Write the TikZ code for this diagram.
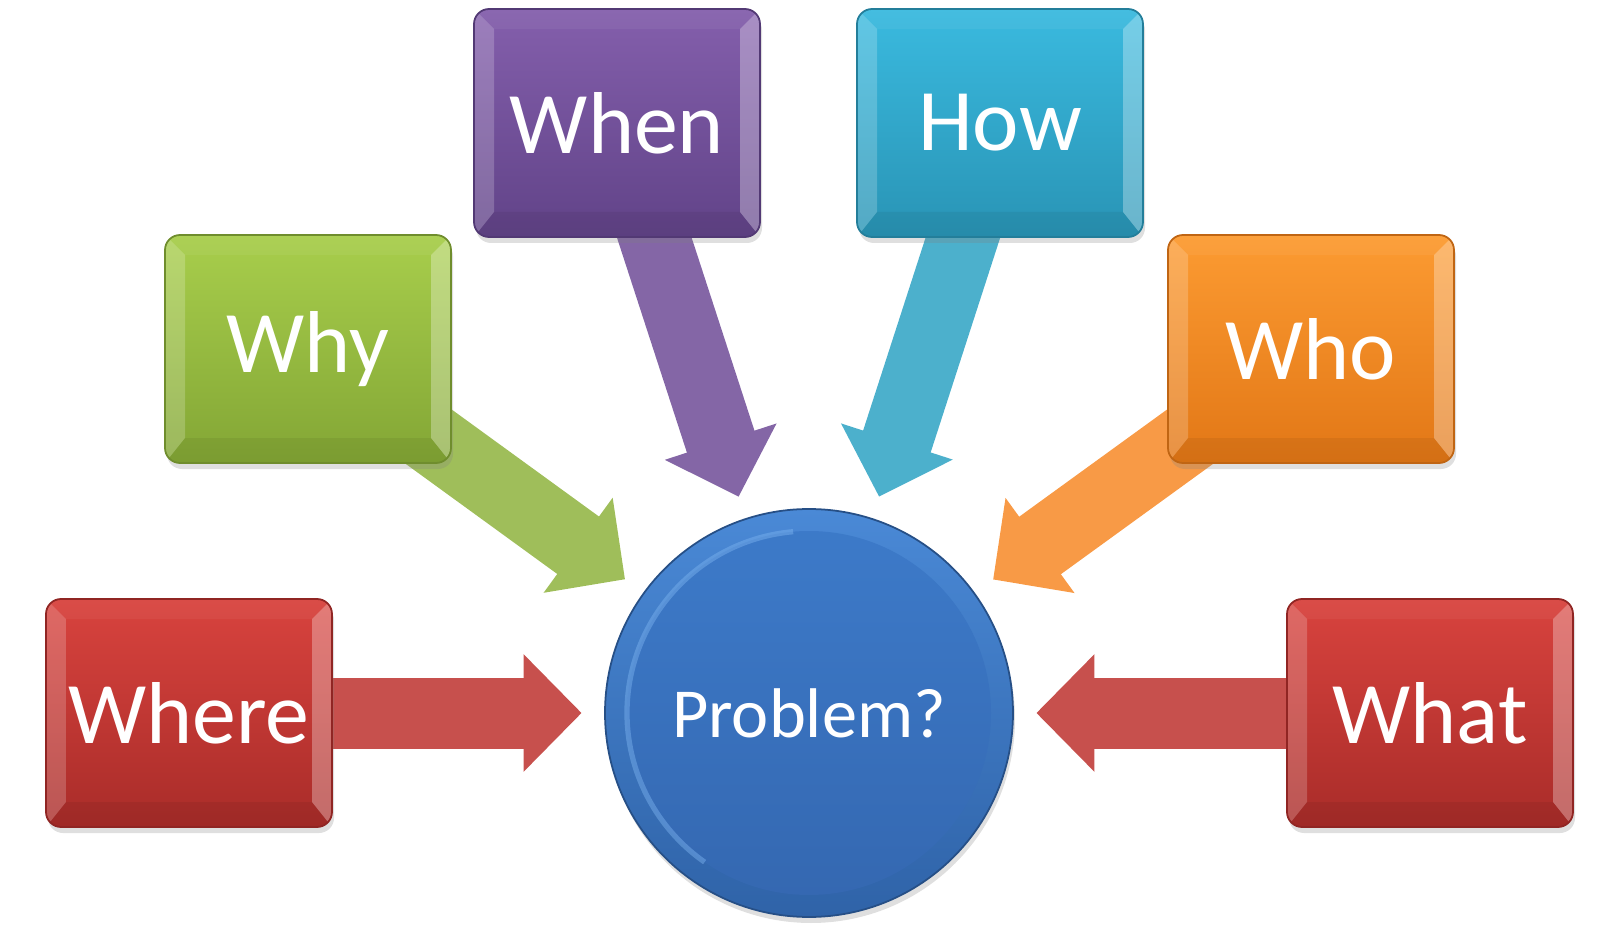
\documentclass[tikz,border=0pt]{standalone}
\usepackage{fontspec}
\setmainfont{Carlito}
\usetikzlibrary{arrows.meta,shadows,backgrounds}
\definecolor{redTop}{HTML}{D8433E}
\definecolor{redBot}{HTML}{A92C29}
\definecolor{redArr}{HTML}{C7504D}
\definecolor{greenTop}{HTML}{A8CE4C}
\definecolor{greenBot}{HTML}{83A635}
\definecolor{greenArr}{HTML}{9FBE5A}
\definecolor{purpleTop}{HTML}{845FAC}
\definecolor{purpleBot}{HTML}{614388}
\definecolor{purpleArr}{HTML}{8466A6}
\definecolor{aquaTop}{HTML}{3ABADF}
\definecolor{aquaBot}{HTML}{2994B5}
\definecolor{aquaArr}{HTML}{4CB0CC}
\definecolor{orangeTop}{HTML}{FC9B32}
\definecolor{orangeBot}{HTML}{E27716}
\definecolor{orangeArr}{HTML}{F89A46}
\definecolor{blueTop}{HTML}{4A89D6}
\definecolor{blueBot}{HTML}{2F63A8}
\definecolor{blueIn}{HTML}{3D7BCA}
\definecolor{blueInBot}{HTML}{3467B0}
\definecolor{blueHi}{HTML}{7DB4F0}
\tikzset{
  qbox/.style={rectangle, rounded corners=0.15cm, minimum width=2.86cm, minimum height=2.28cm,
    inner sep=0pt, text=white, font=\fontsize{25}{30}\selectfont, line width=0.5pt,
    drop shadow={shadow xshift=0.02cm, shadow yshift=-0.06cm, opacity=0.25},
    path picture={
      \fill[white,opacity=0.20,sharp corners] (path picture bounding box.north west) -- ++(0.2,-0.2) -- ++(0,-1.83) -- ++(-0.2,-0.25) -- cycle;
      \fill[white,opacity=0.30,sharp corners] (path picture bounding box.north east) -- ++(-0.2,-0.2) -- ++(0,-1.83) -- ++(0.2,-0.25) -- cycle;
      \fill[white,opacity=0.05,sharp corners] (path picture bounding box.north west) -- ++(0.2,-0.2) -- ++(2.46,0) -- ++(0.2,0.2) -- cycle;
      \fill[black,opacity=0.06,sharp corners] (path picture bounding box.south west) -- ++(0.2,0.25) -- ++(2.46,0) -- ++(0.2,-0.25) -- cycle;}},
  problem/.style={circle, minimum size=4.08cm, inner sep=0pt, top color=blueTop, bottom color=blueBot,
    draw=blueBot!80!black, line width=0.5pt, text=white, font=\fontsize{20}{24}\selectfont,
    drop shadow={shadow xshift=0.02cm, shadow yshift=-0.06cm, opacity=0.25},
    path picture={
      \shade[top color=blueIn, bottom color=blueInBot] (path picture bounding box.center) circle (1.82cm);
      \draw[blueHi, opacity=0.45, line width=1.5pt] (path picture bounding box.center) ++(95:1.82) arc (95:235:1.82);}},
  qarrow/.style={line width=0.71cm, -{Triangle[length=0.58cm 0 0, width=1.14cm 0 0]}, shorten >=0.225cm}
}
\begin{document}
\begin{tikzpicture}
\useasboundingbox (0,0) rectangle (16.01,9.43);
\node[problem] (problem) at (8.09,2.30) {Problem?};
\foreach \nm/\txt/\x/\y/\ct/\cb in {where/Where/1.89/2.30/redTop/redBot, why/Why/3.08/5.94/greenTop/greenBot,
    when/When/6.17/8.20/purpleTop/purpleBot, how/How/10.00/8.20/aquaTop/aquaBot,
    who/Who/13.11/5.94/orangeTop/orangeBot, what/What/14.30/2.30/redTop/redBot}
  \node[qbox, top color=\ct, bottom color=\cb, draw=\cb!85!black] (\nm) at (\x,\y) {\txt};
\begin{scope}[on background layer]
\foreach \nm/\ca in {where/redArr, why/greenArr, when/purpleArr, how/aquaArr, who/orangeArr, what/redArr}
  \draw[qarrow, draw=\ca, fill=\ca] (\nm.center) -- (problem);
\end{scope}
\end{tikzpicture}
\end{document}
